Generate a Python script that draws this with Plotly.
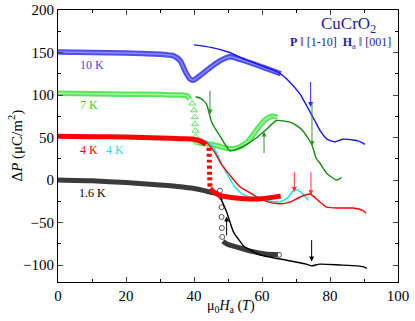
import plotly.graph_objects as go

# ---------------- data ----------------
# 10 K
blue_band_x = [0, 10, 20, 30, 34, 36, 37.4, 38.8, 39.8, 42, 45, 48, 50.5, 55, 60, 65.5]
blue_band_y = [150.5, 150, 149.5, 148, 146, 140, 128, 119, 117.5, 123.5, 133, 141, 145, 140, 133, 125]
blue_line_x = [40, 45, 50, 55, 60, 65, 68, 71.2, 72.5, 74, 75.5, 77.1, 79.1, 81.5, 83.8, 86.8, 88.2, 90.3]
blue_line_y = [159, 156, 150.6, 142, 134, 126, 116, 101, 92, 81, 70, 58, 48, 45, 48, 47, 46, 42]
# 7 K
green_band_x = [0, 10, 20, 30, 36, 38, 38.8]
green_band_y = [102, 101.5, 101, 100.5, 100, 99, 95]
green_tri_x = [39.5, 40.0, 40.2, 40.3, 40.4, 40.5, 40.7, 41.0]
green_tri_y = [90, 82, 74, 66, 58, 51, 46, 44]
green_band2_x = [41, 43, 45, 48, 50, 53, 56, 59, 61, 63, 64.5]
green_band2_y = [44, 43, 42, 39, 37, 38, 46, 62, 71, 75, 74]
green_line_x = [40.5, 42, 43.7, 45.2, 47.6, 50.6, 53, 55.5, 58.5, 61.4, 64.3, 68.2, 70.2, 72, 74.6, 76, 77, 79, 82, 83.4]
green_line_y = [98, 96, 89, 68, 52, 34.5, 37, 42, 50, 60, 70, 68, 64, 58, 42, 25, 20, 8, 0, 3]
# 4 K (red)
red_band_x = [0, 10, 20, 30, 36, 40, 41.8, 43.5]
red_band_y = [51.5, 51, 50.5, 49.5, 48.5, 48, 46, 42]
red_dash_x = [44.4, 44.5, 44.6, 44.7]
red_dash_y = [38, 22, 6, -8]
red_band2_x = [44.8, 45.5, 47, 50, 55, 60, 65.5]
red_band2_y = [-10, -13, -17, -20, -22, -22, -19]
red_line_x = [42, 44, 46, 48, 50.5, 53.5, 56, 59.4, 62, 65.3, 68.2, 71.2, 74.1, 76.5, 79, 83, 86.8, 89.7, 90.6]
red_line_y = [48, 43, 33, 19, 6, -8, -14, -22, -26, -28, -26, -20, -16.5, -24, -32, -33, -33, -36, -39]
# 4 K (cyan)
cyan_x = [43, 45, 46.5, 48, 50, 52, 54, 57, 61, 65, 67.5, 69.5, 71, 72.6, 73.6]
cyan_y = [47, 42, 33, 20, 5, -8, -16, -21, -24, -26, -21, -11.5, -13, -19, -24]
# 1.6 K
black_band_x = [0, 10, 20, 30, 36, 40, 43, 45, 47]
black_band_y = [0, -1, -3, -6, -8, -10, -12.5, -14.5, -16]
black_circ_x = [47.6, 48.0, 48.1, 48.1, 48.2, 48.3, 65]
black_circ_y = [-12.6, -20, -32, -43.5, -56.5, -67, -88]
black_band2_x = [48.5, 50, 53.5, 57, 61, 64.7]
black_band2_y = [-72, -76, -80, -84, -87, -88]
black_line_x = [47, 49.6, 51.6, 53.5, 54.6, 59.4, 65.3, 73, 74.6, 77, 83, 88, 89.7, 90.8]
black_line_y = [-14, -37.6, -61, -72, -77.6, -88, -93, -99, -101, -99, -100, -101, -102, -104]

# arrows: x, tail y, head y, colour
arrow_x = [74.3, 44.7, 60.6, 74.7, 69.5, 74.4, 49.6, 74.6]
arrow_y0 = [117, 107, 30, 92, 11, 11, -67, -69]
arrow_y1 = [86, 77, 57, 40, -14, -18, -43, -96]
arrow_c = ["#2828ff", "#2a9a2a", "#2a9a2a", "#2a9a2a", "#ff3030", "#ff3030", "#000000", "#000000"]

# curve labels
label_text = ["10 K", "7 K", "4 K", "4 K", "1.6 K"]
label_x = [6, 6, 6, 13.5, 5.5]
label_y = [135, 88, 35, 35, -15]
label_c = ["#4646e6", "#3ccc3c", "#ff0000", "#22e0e0", "#000000"]

FONT = "Liberation Serif"
fig = go.Figure()

def line(x, y, color, width, dash=None, opacity=1.0):
    fig.add_trace(go.Scatter(x=x, y=y, mode="lines", opacity=opacity,
                             line=dict(color=color, width=width, dash=dash, shape="spline", smoothing=0.6),
                             hoverinfo="skip", showlegend=False))

def marks(x, y, color, symbol, size):
    fig.add_trace(go.Scatter(x=x, y=y, mode="markers",
                             marker=dict(symbol=symbol, size=size, color=color, line=dict(width=1, color=color)),
                             hoverinfo="skip", showlegend=False))

# bands
line(blue_band_x, blue_band_y, "#4d4df0", 5.5)
line(blue_band_x, blue_band_y, "#8a8af8", 1.5)
line(green_band_x, green_band_y, "#5ae65a", 5.5)
line(green_band_x, green_band_y, "#a0f5a0", 1.5)
marks(green_tri_x, green_tri_y, "#5ae65a", "triangle-up-open", 6)
line(green_band2_x, green_band2_y, "#5ae65a", 5.5)
line(green_band2_x, green_band2_y, "#a0f5a0", 1.5)
line(black_band_x, black_band_y, "#3a3a3a", 5)
marks(black_circ_x, black_circ_y, "#555555", "circle-open", 5)
line(black_band2_x, black_band2_y, "#3a3a3a", 5)
# thin lines
line(blue_line_x, blue_line_y, "#1414ff", 1.4)
line(green_line_x, green_line_y, "#128a12", 1.4)
line(black_line_x, black_line_y, "#000000", 1.4)
line(cyan_x, cyan_y, "#00eaea", 1.4)
line(red_line_x, red_line_y, "#ff0000", 1.4)
line(red_band_x, red_band_y, "#ff0000", 5)
line(red_dash_x, red_dash_y, "#ff0000", 5, dash="3px,3px")
line(red_band2_x, red_band2_y, "#ff0000", 5)

ann = []
for xa, y0, y1, c in zip(arrow_x, arrow_y0, arrow_y1, arrow_c):
    ann.append(dict(x=xa, y=y1, ax=xa, ay=y0, xref="x", yref="y", axref="x", ayref="y",
                    showarrow=True, arrowhead=2, arrowsize=1, arrowwidth=1, arrowcolor=c, text=""))
for t, xl, yl, c in zip(label_text, label_x, label_y, label_c):
    ann.append(dict(x=xl, y=yl, xref="x", yref="y", text=t, showarrow=False, xanchor="left",
                    font=dict(family=FONT, size=12, color=c)))
ann.append(dict(x=0.94, y=0.945, xref="paper", yref="paper", text="CuCrO<sub>2</sub>", showarrow=False,
                xanchor="right", yanchor="middle", font=dict(family=FONT, size=17, color="#1e1ea0")))
ann.append(dict(x=0.985, y=0.88, xref="paper", yref="paper",
                text="<b>P</b> ‖ [1-10]  <b>H</b><sub>a</sub> ‖ [001]", showarrow=False,
                xanchor="right", yanchor="middle", font=dict(family=FONT, size=12, color="#1e1ea0")))
ann.append(dict(x=0.51, y=-0.05, xref="paper", yref="paper",
                text="μ<sub>0</sub><i>H</i><sub>a</sub> (<i>T</i>)", showarrow=False,
                xanchor="center", yanchor="top", font=dict(family=FONT, size=14, color="black")))
ann.append(dict(x=-0.125, y=0.5, xref="paper", yref="paper", textangle=-90,
                text="Δ<i>P</i> (μC/m<sup>2</sup>)", showarrow=False,
                xanchor="center", yanchor="middle", font=dict(family=FONT, size=15, color="black")))

fig.update_layout(
    width=415, height=321, margin=dict(l=58, r=17, t=10, b=39, autoexpand=False),
    paper_bgcolor="white", plot_bgcolor="white", annotations=ann,
    font=dict(family=FONT, size=15, color="black"),
)
fig.update_xaxes(range=[0, 100], dtick=20, tick0=0, ticks="inside", ticklen=5, tickwidth=1,
                 showline=True, linecolor="black", linewidth=1, mirror="ticks", showgrid=False,
                 zeroline=False, minor=dict(ticks="inside", dtick=10, ticklen=3, tickcolor="black"),
                 tickfont=dict(family=FONT, size=15), automargin=False)
fig.update_yaxes(range=[-120, 200], dtick=50, tick0=0, ticks="inside", ticklen=5, tickwidth=1,
                 showline=True, linecolor="black", linewidth=1, mirror="ticks", showgrid=False,
                 zeroline=False, minor=dict(ticks="inside", dtick=25, ticklen=3, tickcolor="black"),
                 tickfont=dict(family=FONT, size=15), automargin=False)

fig.write_html("out.html", config={"displayModeBar": False},
               post_script="document.body.style.margin='0px';")
